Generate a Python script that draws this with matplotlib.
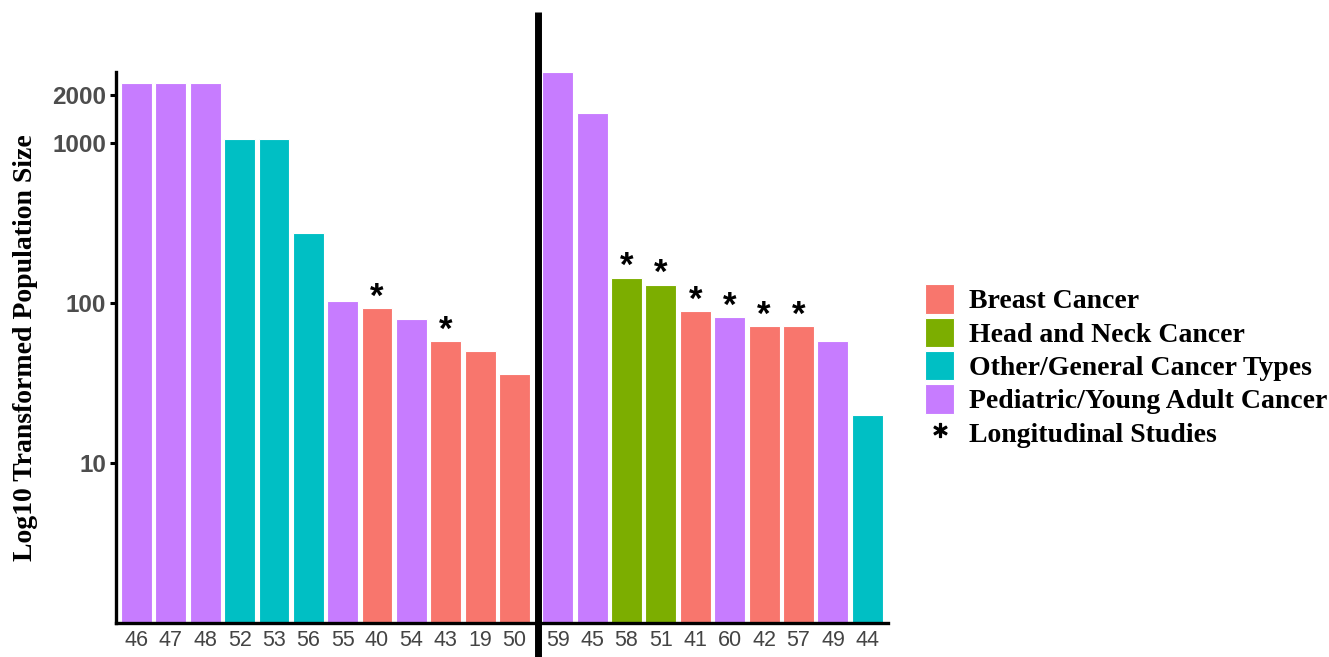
import matplotlib
matplotlib.use("Agg")
import matplotlib.pyplot as plt
from matplotlib.patches import Patch
from matplotlib.lines import Line2D

# ---- data ----
left_ids = ['46', '47', '48', '52', '53', '56', '55', '40', '54', '43', '19', '50']
left_vals = [2400, 2400, 2400, 1060, 1060, 276, 103, 93, 80, 58, 50, 36]
left_cat = ['Pediatric/Young Adult Cancer', 'Pediatric/Young Adult Cancer', 'Pediatric/Young Adult Cancer',
            'Other/General Cancer Types', 'Other/General Cancer Types', 'Other/General Cancer Types',
            'Pediatric/Young Adult Cancer', 'Breast Cancer', 'Pediatric/Young Adult Cancer',
            'Breast Cancer', 'Breast Cancer', 'Breast Cancer']
left_long = [False, False, False, False, False, False, False, True, False, True, False, False]

right_ids = ['59', '45', '58', '51', '41', '60', '42', '57', '49', '44']
right_vals = [2800, 1550, 145, 131, 89, 82, 72, 72, 58, 20]
right_cat = ['Pediatric/Young Adult Cancer', 'Pediatric/Young Adult Cancer',
             'Head and Neck Cancer', 'Head and Neck Cancer', 'Breast Cancer',
             'Pediatric/Young Adult Cancer', 'Breast Cancer', 'Breast Cancer',
             'Pediatric/Young Adult Cancer', 'Other/General Cancer Types']
right_long = [False, False, True, True, True, True, True, True, False, False]

categories = ['Breast Cancer', 'Head and Neck Cancer', 'Other/General Cancer Types',
              'Pediatric/Young Adult Cancer']
palette = ['#F8766D', '#7CAE00', '#00BFC4', '#C77CFF']
color_of = dict(zip(categories, palette))

y_ticks = [10, 100, 1000, 2000]
y_max = 2800

W, H = 1329, 657
fig = plt.figure(figsize=(W / 100, H / 100), dpi=100)

def px_rect(x0, x1, ytop, ybot):
    return [x0 / W, 1 - ybot / H, (x1 - x0) / W, (ybot - ytop) / H]

axL = fig.add_axes(px_rect(116, 535, 72, 623))
axR = fig.add_axes(px_rect(537, 888, 72, 623), sharey=axL)

def draw(ax, ids, vals, cats, longs):
    xs = list(range(len(ids)))
    ax.bar(xs, vals, width=0.9, color=[color_of[c] for c in cats],
           edgecolor='white', linewidth=0.8)
    for x, v, l in zip(xs, vals, longs):
        if l:
            ax.annotate('*', (x, v), xytext=(0, -4), textcoords='offset points',
                        ha='center', va='bottom', fontsize=25, fontweight='bold',
                        family='Liberation Sans', color='black')
    ax.set_xlim(-0.6, len(ids) - 0.4)
    ax.set_xticks(xs)
    ax.set_xticklabels(ids, fontsize=15.5, color='#444444', family='Liberation Sans')
    ax.tick_params(axis='x', length=0, pad=5)
    for s in ['top', 'right']:
        ax.spines[s].set_visible(False)
    ax.spines['bottom'].set_linewidth(2.4)
    ax.spines['left'].set_linewidth(2.4)
    ax.patch.set_alpha(0)

draw(axL, left_ids, left_vals, left_cat, left_long)
draw(axR, right_ids, right_vals, right_cat, right_long)

axL.set_yscale('log')
axL.set_ylim(1, y_max)
axL.set_yticks(y_ticks)
axL.set_yticklabels([str(t) for t in y_ticks], fontsize=17.5, fontweight='bold',
                    color='#4D4D4D', family='Liberation Sans')
axL.yaxis.set_minor_locator(matplotlib.ticker.NullLocator())
axL.tick_params(axis='y', length=4, width=2.2, pad=3)
axL.set_ylabel('Log10 Transformed Population Size', fontsize=20, fontweight='bold',
               family='Liberation Serif', labelpad=10)

axR.spines['left'].set_visible(False)
axR.tick_params(axis='y', left=False, labelleft=False)

# divider line
fig.add_artist(Line2D([537.5 / W, 537.5 / W], [0, 1 - 12 / H], color='black',
                      linewidth=5, transform=fig.transFigure, solid_capstyle='butt'))

handles = [Patch(facecolor=c, edgecolor='white', linewidth=0.8) for c in palette]
handles.append(Line2D([], [], marker=r'$\ast$', color='black', linestyle='None', markersize=10))
labels = categories + ['Longitudinal Studies']
leg = fig.legend(handles, labels, loc='center left', bbox_to_anchor=(925 / W, 1 - 366 / H),
                 frameon=False, prop={'family': 'Liberation Serif', 'weight': 'bold', 'size': 20},
                 handlelength=1.05, handleheight=1.25, labelspacing=0.12, handletextpad=0.55,
                 borderpad=0, borderaxespad=0)

fig.savefig('out.png', dpi=100)
